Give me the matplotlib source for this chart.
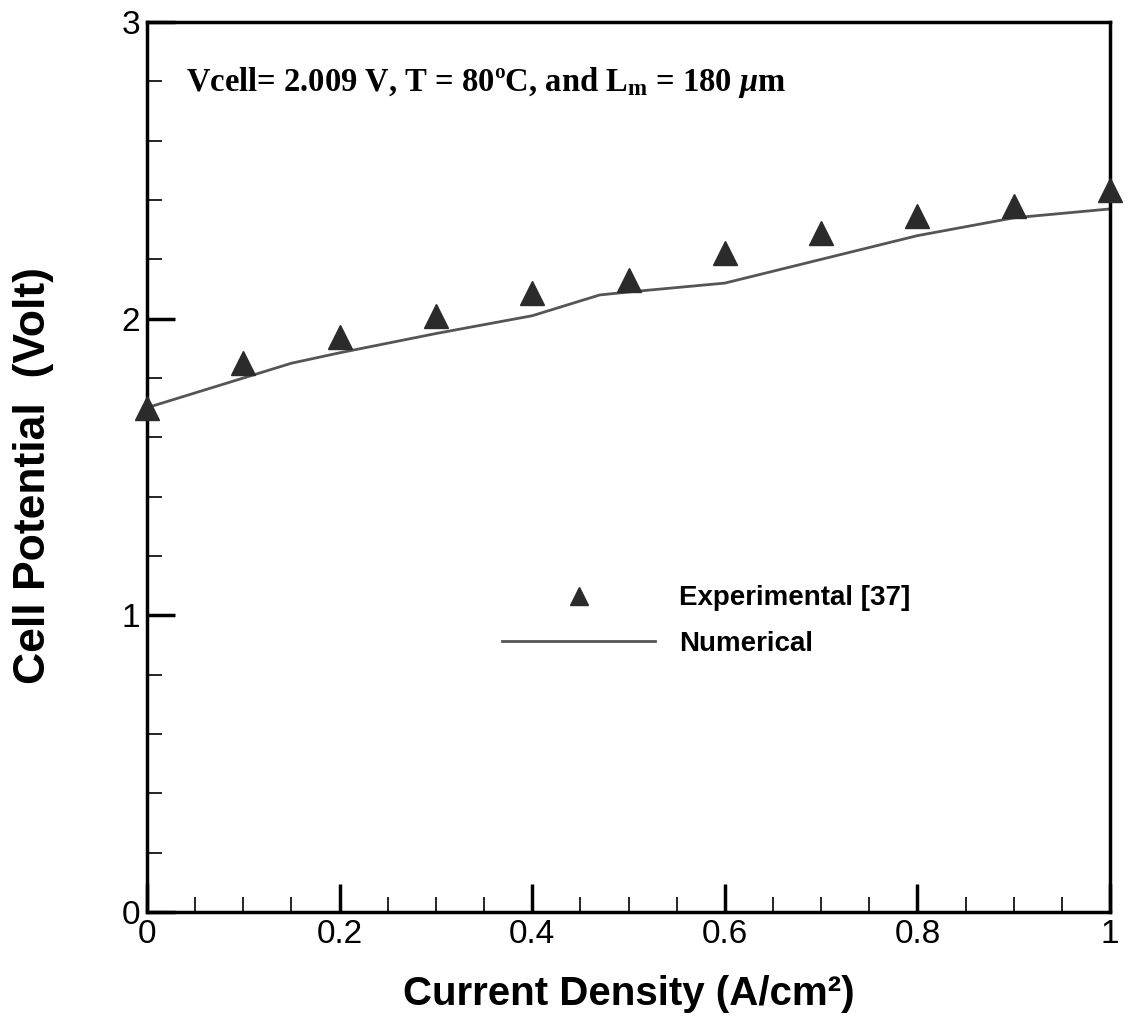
import matplotlib.pyplot as plt
from matplotlib.ticker import MultipleLocator

# experimental points
exp_x = [0.0, 0.1, 0.2, 0.3, 0.4, 0.5, 0.6, 0.7, 0.8, 0.9, 1.0]
exp_v = [1.70, 1.85, 1.94, 2.01, 2.085, 2.13, 2.22, 2.29, 2.345, 2.38, 2.435]

# numerical curve
num_x = [0.0, 0.05, 0.1, 0.15, 0.2, 0.3, 0.4, 0.47, 0.5, 0.6, 0.7, 0.8, 0.9, 1.0]
num_v = [1.70, 1.75, 1.80, 1.85, 1.885, 1.95, 2.01, 2.08, 2.09, 2.12, 2.20, 2.28, 2.34, 2.37]

plt.rcParams['font.family'] = ['Liberation Sans', 'DejaVu Sans']
plt.rcParams['mathtext.fontset'] = 'custom'
plt.rcParams['mathtext.rm'] = 'Liberation Serif:bold'
plt.rcParams['mathtext.it'] = 'Liberation Serif:italic:bold'

fig = plt.figure(figsize=(11.29, 10.25), dpi=100)
ax = fig.add_axes([0.1302, 0.1102, 0.8530, 0.8683])

ax.plot(num_x, num_v, color='#555555', lw=2, label='Numerical', zorder=2)
ax.plot(exp_x, exp_v, ls='none', marker='^', ms=17, color='#2b2b2b',
        label='Experimental [37]', clip_on=False, zorder=3)

ax.set_xlim(0, 1)
ax.set_ylim(0, 3)
ax.xaxis.set_minor_locator(MultipleLocator(0.05))
ax.yaxis.set_minor_locator(MultipleLocator(0.2))
ax.set_xticks([0, 0.2, 0.4, 0.6, 0.8, 1.0], ['0', '0.2', '0.4', '0.6', '0.8', '1'])
ax.set_yticks([0, 1, 2, 3], ['0', '1', '2', '3'])
ax.tick_params(which='major', direction='in', length=20, width=2.5, labelsize=24, pad=5)
ax.tick_params(which='minor', direction='in', length=11, width=1.2)
for s in ax.spines.values():
    s.set_linewidth(2.5)

ax.set_xlabel('Current Density (A/cm²)', fontsize=29, fontweight='bold', labelpad=18)
ax.set_ylabel('Cell Potential  (Volt)', fontsize=32, fontweight='bold', va='center')
ax.yaxis.set_label_coords(-0.118, 0.49)

ax.text(0.04, 0.932, 'Vcell= 2.009 V, T = 80ºC, and L$_{\\mathrm{m}}$ = 180 $\\mathit{\\mu}$m',
        transform=ax.transAxes, fontsize=23.5, fontweight='bold',
        family=['Liberation Serif', 'DejaVu Serif'], va='center')

handles, labels = ax.get_legend_handles_labels()
ax.legend(handles[::-1], labels[::-1], loc='center left', bbox_to_anchor=(0.343, 0.327),
          frameon=False, handlelength=5.5, handletextpad=0.85,
          labelspacing=0.7, markerscale=0.75, prop={'weight': 'bold', 'size': 20})

fig.savefig('out.png', dpi=100)
